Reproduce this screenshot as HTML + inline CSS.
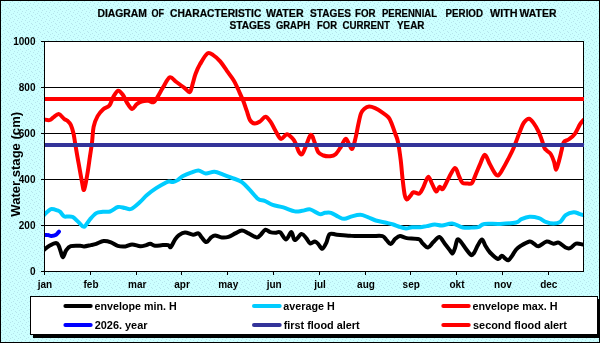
<!DOCTYPE html>
<html><head><meta charset="utf-8"><style>
html,body{margin:0;padding:0;background:#ccffff;}
svg{display:block;will-change:transform;}
text{font-family:"Liberation Sans",sans-serif;font-weight:bold;fill:#000;}
text.t{stroke:#000;stroke-width:0.2px;}
</style></head><body>
<svg width="600" height="343" viewBox="0 0 600 343">
<defs>
<pattern id="dots" width="8" height="8" patternUnits="userSpaceOnUse"><rect width="8" height="8" fill="#ccffff"/><rect x="0" y="0" width="1" height="1" fill="#b6e4ec"/><rect x="4" y="1" width="1" height="1" fill="#b6e4ec"/><rect x="2" y="2" width="1" height="1" fill="#b6e4ec"/><rect x="6" y="3" width="1" height="1" fill="#b6e4ec"/><rect x="1" y="4" width="1" height="1" fill="#b6e4ec"/><rect x="5" y="5" width="1" height="1" fill="#b6e4ec"/><rect x="3" y="6" width="1" height="1" fill="#b6e4ec"/><rect x="7" y="7" width="1" height="1" fill="#b6e4ec"/></pattern>
<clipPath id="pc"><rect x="44.5" y="42" width="539" height="229.5"/></clipPath>
<clipPath id="pc2"><rect x="45" y="42" width="539" height="229.5"/></clipPath>
</defs>
<rect x="0" y="0" width="600" height="343" fill="url(#dots)"/>
<rect x="0.5" y="0.5" width="599" height="342" fill="none" stroke="#000" stroke-width="1"/>
<text x="97.40" y="17" font-size="10" text-anchor="start" textLength="49.63" lengthAdjust="spacingAndGlyphs" class="t">DIAGRAM</text>
<text x="151.40" y="17" font-size="10" text-anchor="start" textLength="12.59" lengthAdjust="spacingAndGlyphs" class="t">OF</text>
<text x="170.00" y="17" font-size="10" text-anchor="start" textLength="91.39" lengthAdjust="spacingAndGlyphs" class="t">CHARACTERISTIC</text>
<text x="266.00" y="17" font-size="10" text-anchor="start" textLength="37.62" lengthAdjust="spacingAndGlyphs" class="t">WATER</text>
<text x="310.00" y="17" font-size="10" text-anchor="start" textLength="40.98" lengthAdjust="spacingAndGlyphs" class="t">STAGES</text>
<text x="355.00" y="17" font-size="10" text-anchor="start" textLength="20.61" lengthAdjust="spacingAndGlyphs" class="t">FOR</text>
<text x="382.00" y="17" font-size="10" text-anchor="start" textLength="54.99" lengthAdjust="spacingAndGlyphs" class="t">PERENNIAL</text>
<text x="445.60" y="17" font-size="10" text-anchor="start" textLength="37.39" lengthAdjust="spacingAndGlyphs" class="t">PERIOD</text>
<text x="490.00" y="17" font-size="10" text-anchor="start" textLength="27.60" lengthAdjust="spacingAndGlyphs" class="t">WITH</text>
<text x="519.60" y="17" font-size="10" text-anchor="start" textLength="36.82" lengthAdjust="spacingAndGlyphs" class="t">WATER</text>
<text x="229.40" y="29" font-size="10" text-anchor="start" textLength="41.18" lengthAdjust="spacingAndGlyphs" class="t">STAGES</text>
<text x="276.00" y="29" font-size="10" text-anchor="start" textLength="34.01" lengthAdjust="spacingAndGlyphs" class="t">GRAPH</text>
<text x="317.00" y="29" font-size="10" text-anchor="start" textLength="20.01" lengthAdjust="spacingAndGlyphs" class="t">FOR</text>
<text x="342.40" y="29" font-size="10" text-anchor="start" textLength="47.59" lengthAdjust="spacingAndGlyphs" class="t">CURRENT</text>
<text x="397.00" y="29" font-size="10" text-anchor="start" textLength="27.38" lengthAdjust="spacingAndGlyphs" class="t">YEAR</text>
<rect x="44.5" y="41.5" width="539" height="230" fill="#fff" stroke="none"/>
<path d="M44.5 87.5H583.5M44.5 133.5H583.5M44.5 179.5H583.5M44.5 225.5H583.5" stroke="#000" stroke-width="1" fill="none" shape-rendering="crispEdges"/>
<g fill="none" stroke-linejoin="round" stroke-linecap="round" stroke-width="4" clip-path="url(#pc)">
<path d="M44.0 249.8 C44.9 249.1 47.4 246.9 49.4 245.8 C51.4 244.7 54.5 243.1 56.1 243.1 C57.7 243.1 57.9 244.4 58.7 245.8 C59.5 247.2 60.1 249.9 60.8 251.8 C61.5 253.7 62.1 257.4 63.0 257.2 C63.9 257.0 64.8 252.3 66.1 250.5 C67.4 248.7 68.4 247.0 70.8 246.2 C73.2 245.4 78.0 245.8 80.2 245.8 C82.4 245.8 82.4 246.5 84.2 246.4 C86.0 246.3 88.9 245.5 90.9 245.1 C92.9 244.7 94.2 244.5 96.3 243.8 C98.4 243.1 101.2 241.3 103.7 241.1 C106.2 240.9 108.7 241.6 111.0 242.4 C113.3 243.2 115.3 245.1 117.7 245.8 C120.1 246.5 123.0 246.6 125.4 246.4 C127.8 246.2 129.7 244.4 132.1 244.4 C134.5 244.4 137.9 246.0 140.1 246.2 C142.3 246.4 143.8 245.8 145.5 245.4 C147.2 245.0 148.6 243.7 150.2 243.8 C151.8 243.9 152.8 245.6 154.9 245.8 C157.0 246.0 160.7 245.2 162.9 245.1 C165.1 245.0 167.0 244.8 168.3 245.1 C169.6 245.4 169.6 248.0 170.7 247.1 C171.8 246.2 173.6 241.7 175.0 239.7 C176.4 237.7 177.3 236.3 179.0 235.1 C180.7 233.9 182.7 232.5 185.0 232.4 C187.3 232.3 190.9 234.5 193.1 234.7 C195.3 234.9 197.0 232.9 198.4 233.4 C199.8 233.9 200.4 236.0 201.7 237.4 C203.0 238.8 204.8 242.1 206.4 242.1 C208.0 242.1 209.7 238.5 211.1 237.4 C212.5 236.3 213.3 235.4 215.1 235.4 C216.9 235.4 219.6 237.2 221.8 237.4 C224.0 237.6 226.3 237.5 228.5 236.8 C230.7 236.1 233.0 234.5 235.2 233.4 C237.4 232.3 239.7 230.5 241.9 230.5 C244.1 230.5 246.1 232.2 248.6 233.4 C251.1 234.6 254.7 237.2 256.7 237.4 C258.7 237.6 259.2 236.0 260.7 234.7 C262.1 233.4 263.8 230.1 265.4 229.7 C267.0 229.3 268.4 231.6 270.1 232.1 C271.8 232.6 273.7 232.7 275.4 232.7 C277.1 232.7 278.3 231.2 280.1 232.3 C281.9 233.4 284.2 239.4 286.1 239.4 C288.0 239.4 289.9 232.0 291.4 232.1 C292.8 232.2 293.1 239.8 294.8 240.1 C296.5 240.4 299.6 234.4 301.5 234.1 C303.4 233.8 304.8 236.5 306.2 238.1 C307.6 239.7 308.8 242.9 310.2 243.5 C311.6 244.1 313.5 241.3 314.9 241.4 C316.2 241.5 317.1 242.9 318.3 244.1 C319.5 245.3 321.0 249.0 322.3 248.8 C323.6 248.6 325.1 245.2 326.3 242.8 C327.5 240.4 327.9 235.4 329.7 234.1 C331.5 232.8 333.6 234.4 337.0 234.7 C340.4 235.0 346.4 235.6 350.0 235.8 C353.6 236.0 354.8 236.1 358.4 236.1 C362.0 236.1 367.8 236.1 371.8 236.1 C375.8 236.1 380.0 235.4 382.5 236.1 C385.0 236.8 385.2 238.8 386.6 240.1 C388.0 241.4 389.2 244.3 390.6 244.1 C392.1 243.9 393.7 240.1 395.3 238.8 C396.9 237.5 398.1 236.2 400.0 236.1 C401.9 236.0 403.6 237.6 406.7 238.1 C409.8 238.6 416.0 238.3 418.7 239.2 C421.4 240.1 421.1 242.0 422.7 243.4 C424.2 244.8 426.2 247.7 428.0 247.5 C429.8 247.3 431.5 243.8 433.4 242.1 C435.3 240.3 437.5 236.7 439.4 237.0 C441.3 237.3 443.2 241.8 445.0 244.0 C446.8 246.2 448.8 248.9 450.0 250.5 C451.2 252.1 451.7 253.9 452.5 253.5 C453.3 253.1 454.2 250.3 455.0 248.0 C455.8 245.7 456.5 240.5 457.5 239.5 C458.5 238.5 459.6 240.4 461.0 242.0 C462.4 243.6 464.3 246.8 466.0 249.0 C467.7 251.2 469.7 254.3 471.0 255.0 C472.3 255.7 472.8 254.7 474.0 253.0 C475.2 251.3 476.7 247.2 478.0 245.0 C479.3 242.8 480.8 239.3 482.0 239.5 C483.2 239.7 484.2 243.8 485.5 246.0 C486.8 248.2 487.9 250.3 490.0 252.5 C492.1 254.7 496.1 258.5 498.0 259.0 C499.9 259.5 500.4 255.8 501.7 255.7 C502.9 255.6 504.4 257.9 505.5 258.7 C506.6 259.4 507.4 260.7 508.5 260.2 C509.6 259.7 511.0 257.4 512.2 255.7 C513.5 253.9 514.6 251.3 516.0 249.7 C517.4 248.1 518.2 247.4 520.5 246.0 C522.8 244.6 527.2 241.9 529.5 241.5 C531.8 241.1 532.5 242.9 534.0 243.7 C535.5 244.5 536.4 246.7 538.5 246.3 C540.6 245.9 544.2 241.9 546.7 241.5 C549.2 241.1 551.5 243.5 553.5 243.7 C555.5 243.9 556.7 242.1 558.7 242.7 C560.7 243.3 563.6 246.6 565.5 247.5 C567.4 248.4 568.2 248.8 570.0 248.2 C571.8 247.6 573.9 244.3 576.0 243.7 C578.1 243.1 581.3 244.4 582.4 244.5" stroke="#000"/>
<path d="M44.0 215.1 C44.6 214.6 46.2 212.8 47.4 211.8 C48.6 210.8 49.7 209.3 51.4 209.1 C53.1 208.9 55.9 209.9 57.4 210.4 C58.9 210.9 59.0 210.8 60.1 211.8 C61.2 212.8 62.8 215.6 64.1 216.4 C65.4 217.2 66.6 216.3 68.1 216.4 C69.5 216.5 71.0 216.1 72.8 217.1 C74.6 218.1 77.0 220.9 78.9 222.5 C80.8 224.1 82.2 227.2 84.0 226.8 C85.8 226.4 87.5 222.1 89.6 219.8 C91.6 217.5 94.1 214.4 96.3 213.1 C98.5 211.8 100.7 212.1 103.0 211.8 C105.3 211.5 107.5 212.3 110.0 211.5 C112.5 210.7 115.5 207.6 118.0 207.0 C120.5 206.4 122.8 207.7 125.0 208.0 C127.2 208.3 128.5 210.0 131.0 209.0 C133.5 208.0 137.3 204.3 140.0 202.0 C142.7 199.7 144.3 197.3 147.0 195.0 C149.7 192.7 153.3 190.1 156.2 188.2 C159.1 186.3 162.1 184.6 164.2 183.5 C166.3 182.4 167.4 181.6 168.9 181.4 C170.4 181.2 171.6 182.3 173.0 182.1 C174.4 181.9 175.9 181.1 177.6 180.1 C179.3 179.1 180.8 177.3 183.0 176.1 C185.2 174.9 188.4 173.6 191.0 172.7 C193.6 171.8 196.0 170.4 198.4 170.5 C200.8 170.6 203.0 173.2 205.7 173.4 C208.4 173.6 211.5 171.6 214.4 171.8 C217.3 172.0 220.2 173.6 223.2 174.7 C226.2 175.8 229.4 176.9 232.5 178.1 C235.6 179.3 239.0 180.1 241.9 182.1 C244.8 184.1 247.3 187.4 250.0 190.2 C252.7 193.0 255.6 197.1 258.0 198.9 C260.4 200.7 262.2 199.9 264.7 200.9 C267.1 201.9 269.6 203.8 272.7 204.9 C275.8 206.0 279.7 206.3 283.4 207.4 C287.1 208.5 291.7 210.8 294.8 211.4 C297.9 212.0 299.6 211.1 302.2 210.8 C304.8 210.5 307.3 208.9 310.2 209.4 C313.1 209.9 317.1 213.5 319.6 214.1 C322.1 214.7 323.1 213.0 325.0 212.8 C326.9 212.6 328.8 212.1 331.0 212.8 C333.2 213.5 336.2 215.8 338.4 216.8 C340.6 217.8 342.2 218.9 344.4 218.8 C346.6 218.7 349.0 217.1 351.7 216.4 C354.4 215.7 357.7 214.7 360.4 214.8 C363.1 214.9 365.2 216.2 367.8 217.1 C370.4 218.0 372.9 219.6 375.8 220.5 C378.7 221.4 382.3 221.8 385.2 222.5 C388.1 223.2 391.1 223.8 393.3 224.5 C395.5 225.2 396.5 225.8 398.6 226.5 C400.7 227.2 403.8 228.4 406.0 228.5 C408.2 228.6 409.6 227.4 412.0 227.2 C414.4 227.0 417.7 227.4 420.1 227.2 C422.6 227.0 424.3 226.5 426.7 226.1 C429.1 225.7 432.1 224.6 434.7 224.5 C437.3 224.4 439.2 225.7 442.1 225.5 C445.0 225.3 448.7 223.2 452.2 223.5 C455.7 223.8 459.3 226.8 462.9 227.5 C466.5 228.2 470.9 227.6 473.6 227.5 C476.3 227.4 477.2 227.4 479.0 226.8 C480.8 226.2 480.8 224.4 484.3 223.9 C487.8 223.4 494.7 224.1 500.0 223.9 C505.3 223.7 512.5 223.3 516.1 222.5 C519.7 221.7 519.2 220.0 521.4 219.1 C523.6 218.2 526.6 217.0 529.5 216.8 C532.4 216.6 536.2 217.3 538.9 218.1 C541.6 218.9 543.1 220.9 545.6 221.8 C548.1 222.7 551.2 223.6 553.6 223.6 C556.0 223.6 558.3 223.2 560.3 221.8 C562.3 220.4 563.5 216.7 565.7 215.1 C567.9 213.5 571.5 212.4 573.7 212.2 C575.9 212.0 577.5 213.3 579.1 213.8 C580.7 214.3 582.4 214.9 583.1 215.1" stroke="#00CCFF"/>
<path d="M44.0 119.4 C44.9 119.5 47.8 120.4 49.4 120.1 C51.0 119.8 51.8 118.4 53.4 117.4 C55.0 116.4 56.9 113.9 58.7 114.1 C60.5 114.3 62.6 117.7 64.1 118.8 C65.6 119.9 66.4 119.8 67.5 120.8 C68.6 121.8 69.8 122.7 70.8 124.8 C71.8 126.9 72.8 130.5 73.5 133.5 C74.2 136.5 74.3 138.0 75.1 142.9 C75.9 147.8 77.3 156.2 78.5 162.7 C79.7 169.2 81.1 177.5 82.0 182.0 C82.9 186.5 83.2 191.0 84.1 189.8 C85.0 188.6 86.2 180.4 87.2 175.0 C88.2 169.6 89.0 163.1 89.8 157.5 C90.6 151.9 91.5 146.8 92.1 141.7 C92.7 136.6 92.7 131.1 93.6 126.8 C94.5 122.5 96.0 119.0 97.6 116.1 C99.2 113.2 101.0 111.2 103.0 109.4 C105.0 107.6 107.7 107.6 109.4 105.5 C111.1 103.4 112.0 99.2 113.4 96.8 C114.9 94.3 116.5 91.1 118.1 90.8 C119.7 90.5 121.2 92.7 122.8 94.8 C124.4 96.9 125.9 101.2 127.5 103.5 C129.1 105.8 130.6 108.8 132.2 108.9 C133.8 109.0 135.2 105.4 136.8 104.2 C138.4 103.0 139.6 102.1 141.5 101.5 C143.4 100.9 146.2 100.7 148.2 100.8 C150.2 100.9 152.0 102.9 153.6 102.2 C155.2 101.5 156.0 99.3 157.6 96.8 C159.2 94.3 161.0 90.6 163.0 87.4 C165.0 84.2 167.5 78.3 169.7 77.4 C171.9 76.5 173.9 80.2 176.4 82.0 C178.9 83.8 182.5 86.4 184.7 88.1 C186.9 89.8 188.5 92.9 189.8 92.1 C191.2 91.3 191.9 86.4 192.8 83.4 C193.8 80.4 194.3 77.2 195.5 74.0 C196.7 70.8 198.1 67.5 200.1 64.1 C202.1 60.7 205.3 54.8 207.5 53.4 C209.7 52.0 211.4 54.1 213.5 55.4 C215.6 56.7 218.0 58.8 220.2 61.4 C222.4 64.0 224.7 67.7 226.9 70.8 C229.1 73.9 231.8 77.3 233.6 80.2 C235.4 83.1 236.6 86.1 237.6 88.2 C238.6 90.3 238.7 90.6 239.7 92.8 C240.7 95.0 242.2 98.3 243.4 101.3 C244.6 104.3 245.6 107.6 246.7 110.7 C247.8 113.8 248.7 118.0 250.0 120.1 C251.3 122.2 253.0 123.3 254.7 123.5 C256.4 123.7 258.3 122.5 260.1 121.4 C261.9 120.3 263.7 116.7 265.5 116.8 C267.3 116.9 269.1 119.8 270.8 122.1 C272.5 124.4 273.8 128.0 275.5 130.8 C277.2 133.6 279.0 138.3 280.9 138.9 C282.8 139.5 285.0 134.3 286.9 134.2 C288.8 134.1 290.9 136.8 292.3 138.2 C293.7 139.6 294.3 140.6 295.4 142.8 C296.5 145.0 297.6 149.6 298.7 151.5 C299.8 153.4 300.9 155.2 302.1 154.2 C303.3 153.2 304.7 148.8 306.1 145.5 C307.6 142.2 309.4 135.1 310.8 134.7 C312.2 134.2 313.6 139.9 314.8 142.8 C316.0 145.7 316.8 150.1 318.2 152.2 C319.6 154.3 321.5 154.8 323.5 155.5 C325.5 156.2 328.2 156.4 330.2 156.2 C332.2 156.0 333.8 155.8 335.6 154.2 C337.4 152.6 339.2 149.4 340.9 146.8 C342.6 144.2 344.2 139.2 345.6 138.8 C347.0 138.4 347.9 142.4 349.0 144.1 C350.1 145.8 351.2 149.9 352.3 148.8 C353.4 147.7 354.7 141.5 355.7 137.4 C356.7 133.3 357.5 128.0 358.4 124.0 C359.3 120.0 360.0 116.0 361.0 113.4 C362.0 110.9 363.0 109.9 364.4 108.7 C365.8 107.5 367.3 106.6 369.1 106.5 C370.9 106.4 373.0 107.2 375.1 108.1 C377.2 109.0 379.6 110.5 381.8 112.1 C384.0 113.6 386.8 115.4 388.5 117.4 C390.2 119.4 390.8 121.5 391.9 124.2 C393.0 126.9 394.2 130.6 395.2 133.5 C396.2 136.4 397.0 137.2 397.9 141.6 C398.8 146.0 399.9 153.6 400.7 160.0 C401.5 166.4 402.0 174.3 402.7 180.1 C403.4 185.9 404.0 191.7 404.7 194.9 C405.4 198.1 405.9 199.3 406.8 199.5 C407.7 199.7 409.0 197.4 410.1 196.2 C411.2 195.0 411.9 192.6 413.5 192.2 C415.1 191.8 417.8 194.4 419.5 193.5 C421.2 192.6 422.1 189.6 423.5 186.8 C424.9 184.0 426.8 177.2 428.2 176.8 C429.6 176.4 430.9 181.7 432.2 184.1 C433.5 186.5 435.0 191.1 436.2 191.5 C437.4 191.9 438.5 187.2 439.6 186.8 C440.7 186.4 441.4 190.4 443.0 188.8 C444.6 187.2 447.0 180.9 449.0 177.4 C451.0 173.9 453.3 168.2 455.0 168.0 C456.7 167.8 457.8 173.6 459.0 176.1 C460.2 178.6 460.9 181.6 462.4 182.8 C463.8 184.0 466.1 183.5 467.7 183.5 C469.3 183.5 470.6 184.6 472.0 182.9 C473.4 181.2 474.8 176.6 476.1 173.5 C477.5 170.4 478.7 167.2 480.1 164.1 C481.6 161.0 483.2 154.8 484.8 154.7 C486.4 154.6 487.9 160.6 489.5 163.5 C491.1 166.4 492.8 170.2 494.2 172.2 C495.6 174.2 496.8 176.1 498.2 175.5 C499.6 174.9 501.2 171.6 502.9 168.8 C504.6 166.0 506.5 162.3 508.3 158.8 C510.1 155.3 511.7 152.4 513.6 148.0 C515.5 143.6 518.0 136.3 519.7 132.1 C521.4 127.9 522.2 124.9 523.8 122.7 C525.4 120.5 527.4 118.6 529.1 118.7 C530.8 118.8 532.2 121.3 533.8 123.4 C535.4 125.5 537.1 128.7 538.5 131.5 C539.9 134.3 540.9 137.5 541.9 140.2 C542.9 142.9 543.4 145.8 544.3 147.6 C545.1 149.4 545.9 149.7 547.0 150.8 C548.1 151.9 549.5 152.2 550.7 154.0 C551.9 155.8 553.1 159.0 554.0 161.6 C554.9 164.2 555.3 169.7 556.1 169.7 C556.9 169.7 557.9 164.8 558.8 161.6 C559.7 158.4 560.7 154.0 561.5 150.8 C562.3 147.6 562.5 144.1 563.7 142.2 C564.9 140.3 566.7 140.8 568.5 139.5 C570.3 138.2 572.8 136.7 574.7 134.1 C576.6 131.5 578.6 126.5 580.1 124.1 C581.6 121.7 583.4 120.3 584.0 119.5" stroke="#FF0000"/>
<path d="M44.0 235.1 C44.7 235.1 46.8 234.9 48.0 235.1 C49.2 235.2 50.0 236.1 51.4 236.0 C52.8 235.9 54.8 235.4 56.1 234.7 C57.4 234.0 58.5 232.1 59.0 231.6" stroke="#0000FF"/>
</g>
<rect x="44.5" y="41.5" width="539" height="230" fill="none" stroke="#000" stroke-width="1" shape-rendering="crispEdges"/>
<path d="M45 145H584" stroke="#333399" stroke-width="4"/>
<path d="M45 99H584" stroke="#FF0000" stroke-width="4"/>
<path d="M44.5 41V272" stroke="#000" stroke-width="1" shape-rendering="crispEdges"/>
<path d="M41 41.5H44.5M41 87.5H44.5M41 133.5H44.5M41 179.5H44.5M41 225.5H44.5M41 271.5H44.5M44.5 271.5V275M90.5 271.5V275M136.5 271.5V275M181.5 271.5V275M227.5 271.5V275M273.5 271.5V275M319.5 271.5V275M365.5 271.5V275M410.5 271.5V275M456.5 271.5V275M502.5 271.5V275M548.5 271.5V275" stroke="#000" stroke-width="1" fill="none" shape-rendering="crispEdges"/>
<text x="35.5" y="44.8" font-size="10" text-anchor="end">1000</text>
<text x="35.5" y="90.8" font-size="10" text-anchor="end">800</text>
<text x="35.5" y="136.8" font-size="10" text-anchor="end">600</text>
<text x="35.5" y="182.8" font-size="10" text-anchor="end">400</text>
<text x="35.5" y="228.8" font-size="10" text-anchor="end">200</text>
<text x="35.5" y="274.8" font-size="10" text-anchor="end">0</text>
<text x="45.0" y="288" font-size="10" text-anchor="middle">jan</text>
<text x="91.0" y="288" font-size="10" text-anchor="middle">feb</text>
<text x="137.2" y="288" font-size="10" text-anchor="middle">mar</text>
<text x="182.0" y="288" font-size="10" text-anchor="middle">apr</text>
<text x="228.2" y="288" font-size="10" text-anchor="middle">may</text>
<text x="274.2" y="288" font-size="10" text-anchor="middle">jun</text>
<text x="320.0" y="288" font-size="10" text-anchor="middle">jul</text>
<text x="366.0" y="288" font-size="10" text-anchor="middle">aug</text>
<text x="411.2" y="288" font-size="10" text-anchor="middle">sep</text>
<text x="457.0" y="288" font-size="10" text-anchor="middle">okt</text>
<text x="503.0" y="288" font-size="10" text-anchor="middle">nov</text>
<text x="548.8" y="288" font-size="10" text-anchor="middle">dec</text>
<text x="0" y="0" font-size="12" transform="translate(19.6,216.7) rotate(-90)" textLength="104.8" lengthAdjust="spacingAndGlyphs">Water stage (cm)</text>
<rect x="33" y="299" width="567" height="39" fill="#000"/>
<rect x="30.5" y="296.5" width="567" height="38" fill="#fff" stroke="#000" stroke-width="1"/>
<path d="M65.4 306.0H90.7" stroke="#000" stroke-width="4" stroke-linecap="round"/>
<text x="94.60" y="310" font-size="11" text-anchor="start" textLength="82.08" lengthAdjust="spacingAndGlyphs" class="l">envelope min. H</text>
<path d="M254.0 306.0H279.7" stroke="#00CCFF" stroke-width="4" stroke-linecap="round"/>
<text x="283.30" y="310" font-size="11" text-anchor="start" textLength="51.41" lengthAdjust="spacingAndGlyphs" class="l">average H</text>
<path d="M443.3 306.0H468.7" stroke="#FF0000" stroke-width="4" stroke-linecap="round"/>
<text x="472.40" y="310" font-size="11" text-anchor="start" textLength="85.22" lengthAdjust="spacingAndGlyphs" class="l">envelope max. H</text>
<path d="M65.4 325.0H90.7" stroke="#0000FF" stroke-width="4" stroke-linecap="round"/>
<text x="94.70" y="329" font-size="11" text-anchor="start" textLength="52.78" lengthAdjust="spacingAndGlyphs" class="l">2026. year</text>
<path d="M254.0 325.0H279.7" stroke="#333399" stroke-width="4" stroke-linecap="round"/>
<text x="283.70" y="329" font-size="11" text-anchor="start" textLength="76.01" lengthAdjust="spacingAndGlyphs" class="l">first flood alert</text>
<path d="M443.3 325.0H468.7" stroke="#FF0000" stroke-width="4" stroke-linecap="round"/>
<text x="473.00" y="329" font-size="11" text-anchor="start" textLength="93.97" lengthAdjust="spacingAndGlyphs" class="l">second flood alert</text>
</svg>
</body></html>
